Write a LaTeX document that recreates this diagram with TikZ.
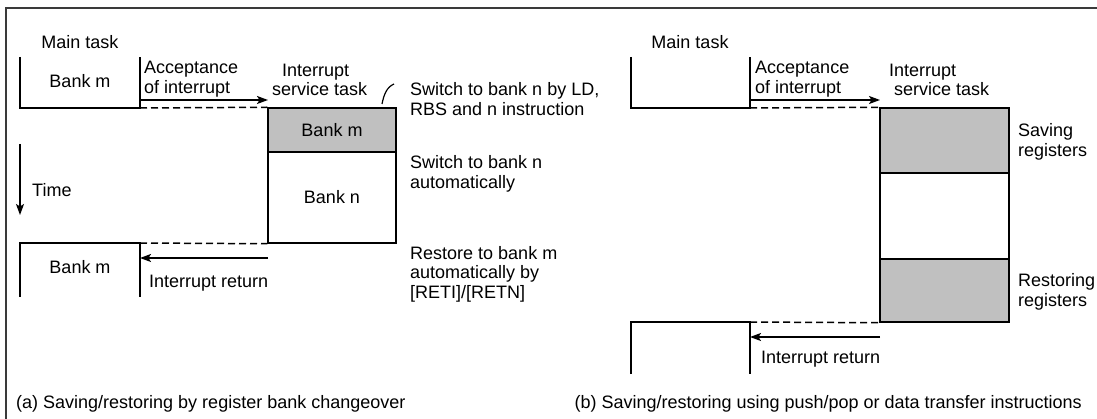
\documentclass[tikz,border=0pt]{standalone}
\usepackage{fontspec}
\setmainfont{Liberation Sans}
\usetikzlibrary{arrows.meta}
\definecolor{boxgray}{HTML}{C0C0C0}
\definecolor{framegray}{HTML}{3A3A3A}
\begin{document}
\begin{tikzpicture}[x=1pt,y=-1pt,
  lbl/.style={inner sep=0pt, font=\fontsize{18}{19.5}\selectfont, align=left},
  ln/.style={line width=1.5pt, line join=miter},
  dsh/.style={line width=1.5pt, dash pattern=on 7pt off 4pt},
  arr/.style={line width=1.5pt, -{Stealth[length=11pt,width=8pt,inset=2.5pt]}},
  bankbox/.style={draw, line width=1.5pt, inner sep=0pt, font=\fontsize{18}{19.5}\selectfont},
]
\useasboundingbox (0,0) rectangle (1097,419);
% frame
\draw[line width=2.2pt, framegray] (6,419) -- (6,8) -- (1097,8);

% ================= (a) =================
\node[lbl] (mainA) at (80,42) {Main task};
\draw[ln] (20,57) -- (20,108) -- (140,108) -- (140,57);
\node[lbl] (bankmA) at (80,81) {Bank m};
\node[lbl, anchor=west] (accA) at (144,79) {Acceptance\\of interrupt};
\coordinate (aA1) at (140,100);
\coordinate (aA2) at (268,100);
\draw[arr] (aA1) -- (aA2);
\node[lbl, anchor=west] (istA) at (272,80) {\hspace*{10pt}Interrupt\\service task};

\node[bankbox, fill=boxgray, minimum width=128pt, minimum height=44pt] (bm) at (332,130) {Bank m};
\node[bankbox, fill=white, minimum width=128pt, minimum height=91pt] (bn) at (332,197.5) {Bank n};
\draw[dsh] (140,108) -- (bm.north west);

\coordinate (cv1) at (382,104);
\coordinate (cv2) at (394,84);
\draw[line width=1.2pt] (cv1) .. controls (384,94) and (387,87) .. (cv2);
\node[lbl, anchor=west] (swA) at (410,99) {Switch to bank n by LD,\\RBS and n instruction};
\node[lbl, anchor=west] (autoA) at (410,174) {Switch to bank n\\automatically};
\node[lbl, anchor=west] (restA) at (410,274) {Restore to bank m\\automatically by\\{[RETI]}/[RETN]};

\coordinate (t1) at (20,144);
\coordinate (t2) at (20,215);
\draw[arr, line width=1.3pt] (t1) -- (t2);
\node[lbl, anchor=west] (time) at (32,190) {Time};

\draw[ln] (20,297) -- (20,243) -- (140,243) -- (140,297);
\draw[dsh] (140,243) -- (bn.south west);
\node[lbl] (bankmA2) at (80,267) {Bank m};
\coordinate (rA1) at (268,258);
\coordinate (rA2) at (140,258);
\draw[arr] (rA1) -- (rA2);
\node[lbl, anchor=west] (retA) at (149,283) {Interrupt return};

\node[lbl, anchor=west] (capA) at (16,404) {(a) Saving/restoring by register bank changeover};

% ================= (b) =================
\node[lbl] (mainB) at (690,42) {Main task};
\draw[ln] (631,57) -- (631,108) -- (750,108) -- (750,57);
\node[lbl, anchor=west] (accB) at (755,79) {Acceptance\\of interrupt};
\coordinate (aB1) at (750,100);
\coordinate (aB2) at (880,100);
\draw[arr] (aB1) -- (aB2);
\node[lbl, anchor=west] (istB) at (889,80) {Interrupt\\\hspace*{5pt}service task};

\node[bankbox, fill=boxgray, minimum width=129pt, minimum height=65pt] (sv) at (944.5,140.5) {};
\node[bankbox, fill=white, minimum width=129pt, minimum height=86pt] (mid) at (944.5,216) {};
\node[bankbox, fill=boxgray, minimum width=129pt, minimum height=63pt] (rs) at (944.5,290.5) {};
\draw[dsh] (750,108) -- (sv.north west);

\node[lbl, anchor=west] (savB) at (1018,142) {Saving\\registers};
\node[lbl, anchor=west] (resB) at (1018,292) {Restoring\\registers};

\draw[ln] (631,374) -- (631,322) -- (750,322) -- (750,374);
\draw[dsh] (750,322) -- (rs.south west);
\coordinate (rB1) at (880,337);
\coordinate (rB2) at (750,337);
\draw[arr] (rB1) -- (rB2);
\node[lbl, anchor=west] (retB) at (761,359) {Interrupt return};

\node[lbl, anchor=east] (capB) at (1082,404) {(b) Saving/restoring using push/pop or data transfer instructions};
\end{tikzpicture}
\end{document}
